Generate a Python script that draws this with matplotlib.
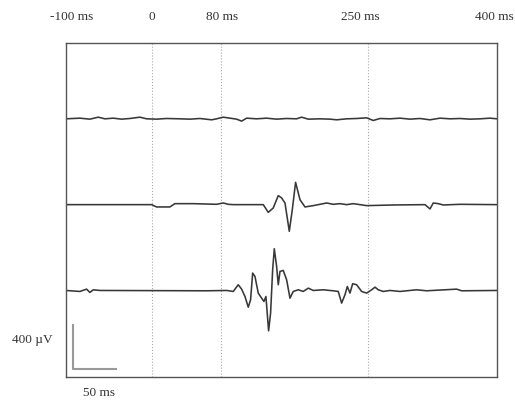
import matplotlib
matplotlib.use("Agg")
import matplotlib.pyplot as plt
import numpy as np

# times in ms, amplitudes in microvolts
t1 = [-100, -83.8, -72.2, -62.5, -54.8, -45.1, -35.4, -25.8, -14.2, -6.4, 5.2, 16.8, 32.3,
      43.8, 55.4, 69, 74.8, 82.5, 90.3, 98, 103.8, 109.6, 121.2, 132.8, 144.4, 156, 167.6,
      173.4, 181.1, 194.7, 206.3, 214, 225.6, 237.2, 248.8, 256.5, 264.3, 275.9, 287.5,
      299.1, 310.7, 322.3, 333.9, 345.5, 357, 368.7, 380.3, 391.9, 400]
a1 = [0, 6, -3, 15, 0, 6, -3, 3, 15, 0, -3, 3, 0, -3, 3, -9, 0, 15, 6, -3, -21, 6, 0, 6,
      -3, 3, 0, 15, -3, 0, -3, -9, 0, 3, 9, -15, 3, 0, 6, -3, 3, -9, 6, 0, 3, -3, 0, 6, 0]

t2 = [-100, -0.6, 5.2, 20.6, 26.4, 47.7, 74.8, 82.5, 88.3, 94.1, 125, 128.9, 134.7, 140.5,
      146.3, 150.2, 154.1, 159.1, 162.6, 166.4, 171.5, 177.3, 186.9, 194.7, 202.4, 210.1,
      217.9, 225.6, 233.3, 248.8, 279.7, 316.5, 322.3, 326.1, 331.9, 337.7, 357, 400]
a2 = [0, 0, -21, -21, 9, 9, 3, 15, 3, 0, 0, 0, -70, -30, 82, 61, 15, -242, -45, 203, 45,
      -21, -9, 3, 15, 3, 9, 0, 9, -9, -3, 0, -39, 15, 9, -3, 3, 0]

t3 = [-100, -83.8, -76, -72.2, -68.3, -60.6, 63.2, 86.4, 94.1, 99.9, 103.8, 107.7, 111.5,
      114.2, 116.6, 119.3, 123.1, 127, 129.7, 132, 135.1, 137.4, 139.8, 141.7, 144.4, 146.3,
      148.3, 152.1, 156, 159.9, 163.7, 169.5, 175.3, 181.1, 186.9, 198.5, 210.1, 215.9,
      219.8, 223.7, 226.4, 229.5, 232.6, 237.2, 243, 248.8, 254.6, 258.5, 262.3, 268.1,
      275.9, 287.5, 306.8, 318.4, 353.2, 359, 400]
a3 = [0, -9, 12, -18, 6, 0, -3, 0, -9, 52, 12, -55, -152, -85, 158, 127, -24, -70, -100,
      -55, -367, -206, 188, 379, 218, 52, 173, 182, 97, -70, -9, 6, -9, 21, 0, 6, -3, -9,
      -115, -39, 36, -24, 61, 52, -9, -24, 6, 30, 6, -9, 0, -9, 6, -3, 12, -3, 0]

traces = [(t1, a1), (t2, a2), (t3, a3)]
spacing = 780  # uV between baselines

markers = [0, 80, 250]
top_labels = ["-100 ms", "0", "80 ms", "250 ms", "400 ms"]
top_label_pos = [-93, 0, 81, 241, 397]

fig = plt.figure(figsize=(5.15, 4.01), dpi=100)
ax = fig.add_axes([0.128, 0.06, 0.837, 0.833])
plt.rcParams['font.family'] = ['Liberation Serif', 'DejaVu Serif']

for m in markers:
    ax.axvline(m, color="#aaaaaa", lw=0.8, ls=":")

for i, (t, a) in enumerate(traces):
    ax.plot(t, np.array(a) - i * spacing, color="#383838", lw=1.15)

# scale bar: 50 ms x 400 uV
sx, sy = -92, -2273
ax.plot([sx, sx, sx + 50], [sy + 400, sy, sy], color="#999999", lw=1.5)

ax.set_xlim(-100, 400)
ax.set_ylim(-2346, 690)
ax.set_xticks([])
ax.set_yticks([])
for s in ax.spines.values():
    s.set_color("#555555")
    s.set_linewidth(1.0)

for lab, x in zip(top_labels, top_label_pos):
    ax.text(x, 1.078, lab, transform=ax.get_xaxis_transform(), fontsize=9.5,
            color="#333333", ha="center", va="center", family="Liberation Serif")

fig.text(0.062, 0.152, "400 \u00b5V", fontsize=9.5, color="#333333",
         ha="center", va="center", family="Liberation Serif")
fig.text(0.192, 0.02, "50 ms", fontsize=9.5, color="#333333",
         ha="center", va="center", family="Liberation Serif")

fig.savefig("out.png", dpi=100)
